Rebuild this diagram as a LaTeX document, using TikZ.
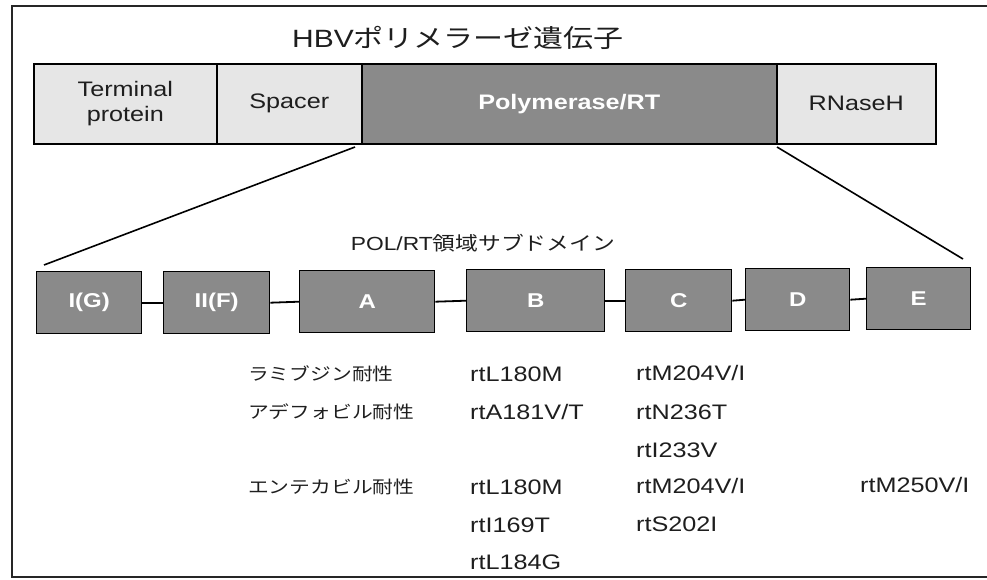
\documentclass[tikz,border=0pt]{standalone}
\usepackage{graphicx}
\usepackage{fontspec}
\setmainfont[FakeStretch=1.2]{Liberation Sans}
\newfontfamily\cjkfam{Noto Sans CJK JP}
\newcommand\jp[1]{\scalebox{1.2}[1]{\cjkfam #1}}
\definecolor{darkbox}{HTML}{8A8A8A}
\definecolor{lightbox}{HTML}{E6E6E6}
\definecolor{inktext}{HTML}{1E1E1E}
\begin{document}
\begin{tikzpicture}[x=1pt,y=-1pt,
  barbox/.style={draw=black, line width=1.6pt, minimum height=80pt, anchor=north west, inner sep=0pt, text=inktext,
     font=\fontsize{21}{25}\selectfont},
  lightpart/.style={barbox, fill=lightbox},
  darkpart/.style={barbox, fill=darkbox, text=white, font=\fontsize{21}{25}\selectfont\bfseries},
  subbox/.style={draw=black, line width=1.4pt, fill=darkbox, minimum height=62pt, anchor=north west, inner sep=0pt,
     text=white, font=\fontsize{20}{24}\selectfont\bfseries},
  link/.style={draw=black, line width=1.8pt},
  zoomline/.style={draw=black, line width=1.6pt},
  frameline/.style={draw=black!85, line width=1.4pt},
  rowtext/.style={anchor=west, inner sep=0pt, text=inktext, font=\fontsize{21}{25}\selectfont},
  rowlabel/.style={anchor=west, inner sep=0pt, text=inktext, font=\fontsize{17.3}{21}\selectfont},
  headtext/.style={inner sep=0pt, text=inktext}
]
\useasboundingbox (0,0) rectangle (987,580);
% frame
\coordinate (ftl) at (12,6);
\coordinate (ftr) at (987,6);
\coordinate (fbl) at (12,577);
\coordinate (fbr) at (987,577);
\draw[frameline] (ftr) -- (ftl) -- (fbl) -- (fbr);

% title
\node[headtext, font=\fontsize{25}{30}\selectfont] (title) at (458,38) {HBV\jp{ポリメラーゼ遺伝子}};

% gene bar
\node[lightpart, minimum width=183pt, align=center] (tp) at (33,63) {Terminal\\protein};
\node[lightpart, minimum width=145pt] (sp) at (216,63) {Spacer};
\node[darkpart, minimum width=415pt] (pol) at (361,63) {Polymerase/RT};
\node[lightpart, minimum width=159pt] (rn) at (776,63) {RNaseH};

% subtitle
\node[headtext, font=\fontsize{19}{23}\selectfont] (sub) at (483,243) {POL/RT\jp{領域サブドメイン}};

% subdomains
\node[subbox, minimum width=105pt] (ig) at (36,271) {I(G)};
\node[subbox, minimum width=106pt] (iif) at (163,271) {II(F)};
\node[subbox, minimum width=135pt] (a) at (299,270) {A};
\node[subbox, minimum width=138pt] (b) at (466,269) {B};
\node[subbox, minimum width=106pt] (c) at (625,269) {C};
\node[subbox, minimum width=104pt] (d) at (745,268) {D};
\node[subbox, minimum width=104pt] (e) at (866,267) {E};

\draw[link] (ig.east) -- (iif.west);
\draw[link] (iif.east) -- (a.west);
\draw[link] (a.east) -- (b.west);
\draw[link] (b.east) -- (c.west);
\draw[link] (c.east) -- (d.west);
\draw[link] (d.east) -- (e.west);

% zoom lines
\coordinate (zl1) at (355,147);
\coordinate (zl2) at (44,265);
\coordinate (zr1) at (777,147);
\coordinate (zr2) at (963,259);
\draw[zoomline] (zl1) -- (zl2);
\draw[zoomline] (zr1) -- (zr2);

% resistance table
\node[rowlabel] (lam) at (248,374) {\jp{ラミブジン耐性}};
\node[rowlabel] (ade) at (248,412) {\jp{アデフォビル耐性}};
\node[rowlabel] (ent) at (248,487) {\jp{エンテカビル耐性}};

\node[rowtext] (b1) at (470,374) {rtL180M};
\node[rowtext] (c1) at (636,373) {rtM204V/I};
\node[rowtext] (b2) at (470,412) {rtA181V/T};
\node[rowtext] (c2) at (636,412) {rtN236T};
\node[rowtext] (c3) at (636,450) {rtI233V};
\node[rowtext] (b4) at (470,487) {rtL180M};
\node[rowtext] (c4) at (636,486) {rtM204V/I};
\node[rowtext] (e4) at (860,485) {rtM250V/I};
\node[rowtext] (b5) at (470,525) {rtI169T};
\node[rowtext] (c5) at (636,524) {rtS202I};
\node[rowtext] (b6) at (470,562) {rtL184G};
\end{tikzpicture}
\end{document}
